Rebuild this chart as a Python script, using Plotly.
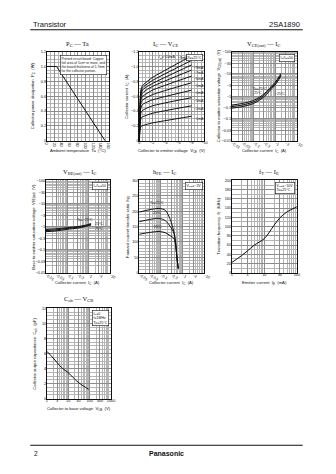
import math
import plotly.graph_objects as go

W, H = 336, 474
SANS = "Liberation Sans, Arial, sans-serif"
SERIF = "Liberation Serif, 'Times New Roman', serif"
INK = "#111111"
GRID_MAJOR = "#8c8c8c"
GRID_MINOR = "#b4b4b4"

# ---------------- P_C - Ta ----------------
ta_c = [0, 25, 150]
pc_w = [1.0, 1.0, 0.0]
ta_ticks = [0, 20, 40, 60, 80, 100, 120, 140, 160]
ta_ticktext = ["0", "20", "40", "60", "80", "100", "120", "140", "160"]
pc_ticks = [0, 0.2, 0.4, 0.6, 0.8, 1.0, 1.2]
pc_ticktext = ["0", "0.2", "0.4", "0.6", "0.8", "1.0", "1.2"]

# ---------------- I_C - V_CE ----------------
vce_v = [0, -0.1, -0.2, -0.4, -0.7, -2, -8]
ib_labels = ["−1mA", "−2mA", "−3mA", "−4mA", "−5mA", "−6mA", "−7mA", "−8mA",
             "−9mA", "I<sub>B</sub>=−10mA"]
ic_ib1 = [0, -0.12, -0.18, -0.20, -0.21, -0.24, -0.33]
ic_ib2 = [0, -0.18, -0.28, -0.32, -0.33, -0.37, -0.47]
ic_ib3 = [0, -0.23, -0.36, -0.40, -0.42, -0.47, -0.58]
ic_ib4 = [0, -0.27, -0.42, -0.48, -0.50, -0.55, -0.68]
ic_ib5 = [0, -0.31, -0.48, -0.54, -0.56, -0.62, -0.78]
ic_ib6 = [0, -0.34, -0.52, -0.59, -0.61, -0.68, -0.87]
ic_ib7 = [0, -0.36, -0.56, -0.63, -0.66, -0.73, -0.95]
ic_ib8 = [0, -0.38, -0.59, -0.67, -0.70, -0.77, -1.02]
ic_ib9 = [0, -0.40, -0.62, -0.70, -0.73, -0.81, -1.08]
ic_ib10 = [0, -0.42, -0.65, -0.73, -0.76, -0.85, -1.14]
ic_curves = [ic_ib1, ic_ib2, ic_ib3, ic_ib4, ic_ib5, ic_ib6, ic_ib7, ic_ib8, ic_ib9, ic_ib10]
vce_ticks = [0, -2, -4, -6, -8, -10]
vce_ticktext = ["0", "−2", "−4", "−6", "−8", "−10"]
ic_ticks = [0, -0.2, -0.4, -0.6, -0.8, -1.0, -1.2]
ic_ticktext = ["0", "−0.2", "−0.4", "−0.6", "−0.8", "−1.0", "−1.2"]

# ---------------- V_CE(sat) - I_C ----------------
sat_ic = [-0.01, -0.03, -0.1, -0.2, -0.4, -0.7, -1.0, -1.5, -1.8]
vcesat_75 = [-0.40, -0.47, -0.64, -0.93, -1.6, -2.9, -4.2, -7.4, -10.2]
vcesat_25 = [-0.34, -0.40, -0.55, -0.80, -1.4, -2.5, -3.7, -6.5, -9.0]
vcesat_m25 = [-0.29, -0.34, -0.47, -0.69, -1.2, -2.2, -3.2, -5.7, -7.9]

# ---------------- V_BE(sat) - I_C ----------------
bsat_ic = [-0.01, -0.03, -0.1, -0.3, -0.7, -1.3]
vbesat_m25 = [-0.75, -0.80, -0.90, -1.00, -1.15, -1.35]
vbesat_25 = [-0.67, -0.72, -0.83, -0.93, -1.07, -1.26]
vbesat_75 = [-0.60, -0.65, -0.76, -0.86, -1.00, -1.18]

# shared log scale ticks for the current / voltage axes
ic_log_ticks = [-0.01, -0.03, -0.1, -0.3, -1, -3, -10]
ic_log_text = ["−0.01", "−0.03", "−0.1", "−0.3", "−1", "−3", "−10"]
v_log_ticks = [-0.01, -0.03, -0.1, -0.3, -1, -3, -10, -30, -100]
v_log_text = ["−0.01", "−0.03", "−0.1", "−0.3", "−1", "−3", "−10", "−30", "−100"]

# ---------------- h_FE - I_C ----------------
hfe_ic = [-0.01, -0.03, -0.08, -0.16, -0.27, -0.39, -0.46, -0.55, -0.62]
hfe_75 = [197, 205, 209, 203, 172, 134, 104, 45, 12]
hfe_25 = [166, 173, 177, 169, 150, 129, 102, 45, 14]
hfe_m25 = [125, 131, 134, 130, 120, 112, 94, 45, 16]
hfe_ticks = [0, 50, 100, 150, 200, 250, 300]
hfe_ticktext = ["0", "50", "100", "150", "200", "250", "300"]

# ---------------- f_T - I_E ----------------
ie_ma = [1, 2, 3, 5, 10, 20, 30, 50, 100]
ft_mhz = [22, 37, 47, 60, 74, 103, 119, 132, 143]
ie_ticks = [1, 3, 10, 30, 100]
ie_ticktext = ["1", "3", "10", "30", "100"]
ft_ticks = [0, 20, 40, 60, 80, 100, 120, 140, 160, 180, 200]
ft_ticktext = [str(v) for v in ft_ticks]

# ---------------- C_ob - V_CB ----------------
vcb_v = [1, 2, 3, 5, 10, 20, 30, 50, 90]
cob_pf = [6.3, 5.4, 4.8, 4.1, 3.45, 2.6, 2.15, 1.7, 1.25]
vcb_ticks = [1, 3, 10, 30, 100, 300, 1000]
vcb_ticktext = ["1", "3", "10", "30", "100", "300", "1000"]
cob_ticks = [0, 2, 4, 6, 8, 10, 12]
cob_ticktext = ["0", "2", "4", "6", "8", "10", "12"]

# plot frames in pixels: (left, right), (top, bottom)
FRAMES = {
    1: ((45, 109), (50, 140)),
    2: ((140, 207), (50, 140)),
    3: ((235, 302), (50, 140)),
    4: ((44, 110), (180, 273)),
    5: ((140, 207), (180, 273)),
    6: ((235, 302), (180, 273)),
    7: ((45, 111), (309, 400)),
}


def px(x):
    return x / W


def py(y):
    return 1 - y / H


def log_minor(lo_exp, hi_exp):
    vals = []
    for e in range(lo_exp, hi_exp):
        for m in range(2, 10):
            vals.append(m * 10 ** e)
    return vals


def base_axis(n, is_x):
    (l, r), (t, b) = FRAMES[n]
    d = dict(
        domain=[px(l), px(r)] if is_x else [py(b), py(t)],
        anchor=("y" if is_x else "x") + ("" if n == 1 else str(n)),
        showline=True, linecolor=INK, linewidth=0.8, mirror=True,
        ticks="", ticklabelstandoff=-2 if is_x else -1,
        tickfont=dict(size=3.8, color=INK, family=SANS),
        showgrid=True, gridcolor=GRID_MAJOR, gridwidth=0.5,
        zeroline=False, fixedrange=True, tickmode="array",
    )
    return d


def lin_axis(n, is_x, rng, tv, tt, minor_dtick):
    d = base_axis(n, is_x)
    d.update(range=rng, tickvals=tv, ticktext=tt,
             minor=dict(dtick=minor_dtick, showgrid=True, gridcolor=GRID_MINOR, gridwidth=0.4))
    return d


def log_axis(n, is_x, rng_exp, tv, tt):
    d = base_axis(n, is_x)
    d.update(type="log", range=list(rng_exp), tickvals=tv, ticktext=tt,
             minor=dict(tickmode="array", tickvals=log_minor(rng_exp[0], rng_exp[1]),
                        showgrid=True, gridcolor=GRID_MINOR, gridwidth=0.4))
    return d


def mag(seq):
    return [abs(v) for v in seq]


fig = go.Figure()


def add_curve(n, xs, ys, smoothing=0.8, shape="spline"):
    ax = "" if n == 1 else str(n)
    fig.add_trace(go.Scatter(x=xs, y=ys, mode="lines", xaxis="x" + ax, yaxis="y" + ax,
                             line=dict(color=INK, width=1.0, shape=shape,
                                       smoothing=smoothing if shape == "spline" else None),
                             hoverinfo="skip", showlegend=False))


# 1: P_C - Ta
add_curve(1, ta_c, pc_w, shape="linear")
# 2: I_C - V_CE
for curve in ic_curves:
    add_curve(2, vce_v, curve, smoothing=0.6)
# 3: V_CE(sat)
for series in (vcesat_75, vcesat_25, vcesat_m25):
    add_curve(3, mag(sat_ic), mag(series), smoothing=0.9)
# 4: V_BE(sat)
for series in (vbesat_m25, vbesat_25, vbesat_75):
    add_curve(4, mag(bsat_ic), mag(series), smoothing=0.9)
# 5: h_FE
for series in (hfe_75, hfe_25, hfe_m25):
    add_curve(5, mag(hfe_ic), series, smoothing=0.8)
# 6: f_T
add_curve(6, ie_ma, ft_mhz, smoothing=0.9)
# 7: C_ob
add_curve(7, vcb_v, cob_pf, smoothing=0.9)

layout = dict(
    width=W, height=H, margin=dict(l=0, r=0, t=0, b=0),
    paper_bgcolor="white", plot_bgcolor="white", showlegend=False,
    font=dict(family=SANS, color=INK, size=5),
)
layout["xaxis"] = lin_axis(1, True, [0, 160], ta_ticks, ta_ticktext, 10)
layout["yaxis"] = lin_axis(1, False, [0, 1.2], pc_ticks, pc_ticktext, 0.05)
layout["xaxis2"] = lin_axis(2, True, [0, -10], vce_ticks, vce_ticktext, 0.5)
layout["yaxis2"] = lin_axis(2, False, [0, -1.2], ic_ticks, ic_ticktext, 0.05)
layout["xaxis3"] = log_axis(3, True, (-2, 1), mag(ic_log_ticks), ic_log_text)
layout["yaxis3"] = log_axis(3, False, (-2, 2), mag(v_log_ticks), v_log_text)
layout["xaxis4"] = log_axis(4, True, (-2, 1), mag(ic_log_ticks), ic_log_text)
layout["yaxis4"] = log_axis(4, False, (-2, 2), mag(v_log_ticks), v_log_text)
layout["xaxis5"] = log_axis(5, True, (-2, 1), mag(ic_log_ticks), ic_log_text)
layout["yaxis5"] = lin_axis(5, False, [0, 300], hfe_ticks, hfe_ticktext, 10)
layout["xaxis6"] = log_axis(6, True, (0, 2), ie_ticks, ie_ticktext)
layout["yaxis6"] = lin_axis(6, False, [0, 200], ft_ticks, ft_ticktext, 10)
layout["xaxis7"] = log_axis(7, True, (0, 3), vcb_ticks, vcb_ticktext)
layout["yaxis7"] = lin_axis(7, False, [0, 12], cob_ticks, cob_ticktext, 0.5)

ann = []


def text(x, y, s, size=4.2, family=SANS, angle=0, xanchor="center", yanchor="middle", **kw):
    a = dict(x=x, y=y, xref="paper", yref="paper", text=s, showarrow=False,
             font=dict(size=size, family=family, color=INK), textangle=angle,
             xanchor=xanchor, yanchor=yanchor)
    a.update(kw)
    ann.append(a)


# chart titles
titles = {
    1: ("P<sub>C</sub> — Ta", 77, 42),
    2: ("I<sub>C</sub> — V<sub>CE</sub>", 167, 42),
    3: ("V<sub>CE(sat)</sub> — I<sub>C</sub>", 268, 42),
    4: ("V<sub>BE(sat)</sub> — I<sub>C</sub>", 79, 171),
    5: ("h<sub>FE</sub> — I<sub>C</sub>", 166, 171),
    6: ("f<sub>T</sub> — I<sub>E</sub>", 273, 171),
    7: ("C<sub>ob</sub> — V<sub>CB</sub>", 78, 300),
}
for n, (s, x, y) in titles.items():
    text(px(x), py(y), s, size=6.5, family=SERIF)

# axis titles
x_titles = {
    1: "Ambient temperature  Ta  (°C)",
    2: "Collector to emitter voltage  V<sub>CE</sub>  (V)",
    3: "Collector current  I<sub>C</sub>  (A)",
    4: "Collector current  I<sub>C</sub>  (A)",
    5: "Collector current  I<sub>C</sub>  (A)",
    6: "Emitter current  I<sub>E</sub>  (mA)",
    7: "Collector to base voltage  V<sub>CB</sub>  (V)",
}
y_titles = {
    1: "Collector power dissipation  P<sub>C</sub>  (W)",
    2: "Collector current  I<sub>C</sub>  (A)",
    3: "Collector to emitter saturation voltage  V<sub>CE(sat)</sub>  (V)",
    4: "Base to emitter saturation voltage  V<sub>BE(sat)</sub>  (V)",
    5: "Forward current transfer ratio  h<sub>FE</sub>",
    6: "Transition frequency  f<sub>T</sub>  (MHz)",
    7: "Collector output capacitance  C<sub>ob</sub>  (pF)",
}
x_title_y = {1: 150, 2: 150, 3: 150, 4: 283.5, 5: 283.5, 6: 283.5, 7: 410.5}
y_title_x = {1: 31, 2: 128, 3: 222, 4: 31, 5: 128, 6: 222, 7: 32}
for n in FRAMES:
    (l, r), (t, b) = FRAMES[n]
    text(px((l + r) / 2), py(x_title_y[n]), x_titles[n], size=4.2)
    text(px(y_title_x[n]), py((t + b) / 2), y_titles[n], size=4.2, angle=-90)

# condition boxes
BOX = dict(bordercolor=INK, borderwidth=0.6, bgcolor="white", borderpad=1)
text(px(107), py(53), "Printed circuit board: Copper<br>foil area of 1cm<sup>2</sup> or more, and<br>"
     "the board thickness of 1.7mm<br>for the collector portion.",
     size=3.3, xanchor="right", yanchor="top", align="left", **BOX)
text(px(205), py(52), "Ta=25°C", size=3.5, xanchor="right", yanchor="top", **BOX)
text(px(300), py(52), "I<sub>C</sub>/I<sub>B</sub>=50", size=3.5, xanchor="right", yanchor="top", **BOX)
text(px(108), py(182), "I<sub>C</sub>/I<sub>B</sub>=50", size=3.5, xanchor="right", yanchor="top", **BOX)
text(px(205), py(182), "V<sub>CE</sub>=−2V", size=3.5, xanchor="right", yanchor="top", **BOX)
text(px(300), py(182), "V<sub>CB</sub>=−10V<br>Ta=25°C", size=3.5, xanchor="right", yanchor="top",
     align="left", **BOX)
text(px(109), py(311), "I<sub>E</sub>=0<br>f=1MHz<br>Ta=25°C", size=3.5, xanchor="right", yanchor="top",
     align="left", **BOX)


def curve_label(n, x, y, s, xshift=0, yshift=0, xanchor="left", log_x=False, log_y=False):
    ax = "" if n == 1 else str(n)
    ann.append(dict(x=math.log10(abs(x)) if log_x else x,
                    y=math.log10(abs(y)) if log_y else y,
                    xref="x" + ax, yref="y" + ax, text=s, showarrow=False,
                    font=dict(size=3.5, family=SANS, color=INK),
                    xanchor=xanchor, yanchor="middle", xshift=xshift, yshift=yshift))


# I_B labels at the ends of the I_C - V_CE curves
for lbl, curve in zip(ib_labels[:8], ic_curves[:8]):
    curve_label(2, vce_v[-1], curve[-1], lbl, xshift=1, yshift=-3)
curve_label(2, vce_v[-1], ic_ib9[-1], ib_labels[8], xshift=-8, yshift=2, xanchor="center")
curve_label(2, vce_v[-1], ic_ib10[-1], ib_labels[9], xshift=-24, yshift=-1, xanchor="center")

# temperature labels
curve_label(3, sat_ic[3], vcesat_75[3], "Ta=75°C", xshift=0, yshift=8, xanchor="center", log_x=True, log_y=True)
curve_label(3, sat_ic[3], vcesat_25[3], "25°C", xshift=-2, yshift=5, xanchor="center", log_x=True, log_y=True)
curve_label(3, sat_ic[5], vcesat_m25[5], "−25°C", xshift=1, yshift=-5, xanchor="left", log_x=True, log_y=True)

curve_label(4, bsat_ic[-1], vbesat_m25[-1], "Ta=−25°C", xshift=-6, yshift=4, xanchor="center", log_x=True, log_y=True)
curve_label(4, bsat_ic[-1], vbesat_25[-1], "25°C", xshift=2, yshift=0, xanchor="left", log_x=True, log_y=True)
curve_label(4, bsat_ic[-1], vbesat_75[-1], "75°C", xshift=2, yshift=-4, xanchor="left", log_x=True, log_y=True)

curve_label(5, hfe_ic[2], hfe_75[2], "Ta=75°C", xshift=-2, yshift=5, xanchor="center", log_x=True)
curve_label(5, hfe_ic[2], hfe_25[2], "25°C", xshift=-2, yshift=5, xanchor="center", log_x=True)
curve_label(5, hfe_ic[2], hfe_m25[2], "−25°C", xshift=-2, yshift=5, xanchor="center", log_x=True)

# page header and footer
text(px(29), py(23), "Transistor", size=7.5, xanchor="left")
text(px(307), py(23), "2SA1890", size=7.5, xanchor="right")
text(px(30), py(455), "2", size=6.5, xanchor="left")
text(px(168), py(455), "<b>Panasonic</b>", size=7)

layout["annotations"] = ann
layout["shapes"] = [
    dict(type="line", xref="paper", yref="paper", x0=px(28), x1=px(308), y0=py(28), y1=py(28),
         line=dict(color=INK, width=1.2)),
    dict(type="line", xref="paper", yref="paper", x0=px(28), x1=px(308), y0=py(447), y1=py(447),
         line=dict(color=INK, width=1.2)),
]

fig.update_layout(**layout)
fig.write_html("out.html")
